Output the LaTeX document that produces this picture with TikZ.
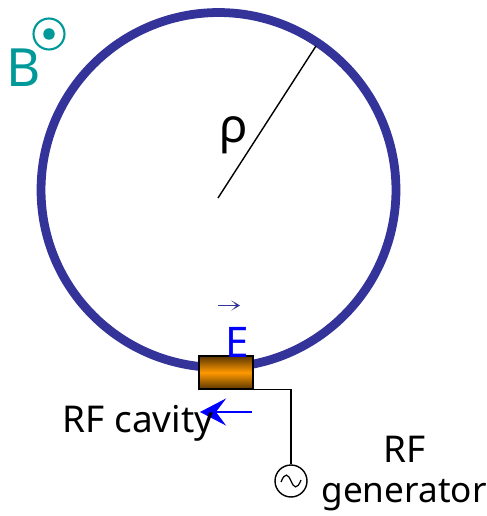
\documentclass[tikz,border=0pt]{standalone}
\usepackage{fontspec}
\setmainfont{Noto Sans}
\usetikzlibrary{arrows.meta}
\definecolor{ringblue}{HTML}{333399}
\definecolor{fieldteal}{HTML}{009999}
\definecolor{cavityorange}{HTML}{FF9900}
\definecolor{cavitydark}{HTML}{5A3600}
\begin{document}
\begin{tikzpicture}[x=0.02cm, y=-0.02cm, >=Stealth,
    label/.style={inner sep=0pt, font=\fontsize{21}{25}\selectfont},
    cavity/.style={draw=black, line width=0.8pt, minimum width=1.08cm, minimum height=0.66cm,
        top color=cavitydark, bottom color=cavitydark, middle color=cavityorange},
    source/.style={circle, draw=black, line width=0.8pt, minimum size=0.64cm, inner sep=0pt}]
    \useasboundingbox (0,0) rectangle (486,516);
    \draw[ringblue, line width=5pt] (218.5,190) circle [radius=3.55cm];
    % bending radius
    \coordinate (centre) at (218,198);
    \coordinate (rim) at (316,46);
    \draw[line width=0.8pt] (centre) -- (rim);
    \node[label, font=\fontsize{27}{31}\selectfont] (rho) at (234,135) {ρ};
    % field direction out of the page
    \node[label, text=fieldteal, font=\fontsize{30}{35}\selectfont] (bfield) at (24,68) {B};
    \node[circle, draw=fieldteal, line width=1.2pt, minimum size=0.62cm, inner sep=0pt] (bout) at (49,34) {};
    \fill[fieldteal] (bout) circle [radius=0.115cm];
    % cavity and generator
    \node[cavity] (rfcavity) at (226,372.5) {};
    \node[source] (rfsource) at (291,481) {};
    \draw[line width=0.8pt] (rfcavity.south east) -| (rfsource.north);
    \draw[line width=0.7pt] (281,482) .. controls (285,472) and (288,474) .. (291,481)
        .. controls (294,488) and (297,490) .. (301,480);
    % accelerating field
    \node[label, text=blue, font=\fontsize{24}{28}\selectfont] (efield) at (237,342) {E};
    \coordinate (evecl) at (218,305.5);
    \coordinate (evecr) at (240,305.5);
    \draw[-{Stealth[length=0.17cm,width=0.2cm,inset=0.1cm]}, ringblue, line width=0.9pt] (evecl) -- (evecr);
    \coordinate (earrowr) at (252,412);
    \coordinate (earrowl) at (200,412);
    \draw[-{Stealth[length=0.52cm,width=0.54cm,inset=0.2cm]}, blue, line width=1.3pt] (earrowr) -- (earrowl);
    \node[label] (cavitytext) at (138,423) {RF cavity};
    \node[label] (rftext) at (405,449) {RF};
    \node[label, font=\fontsize{20}{24}\selectfont] (gentext) at (404,495) {generator};
\end{tikzpicture}
\end{document}
